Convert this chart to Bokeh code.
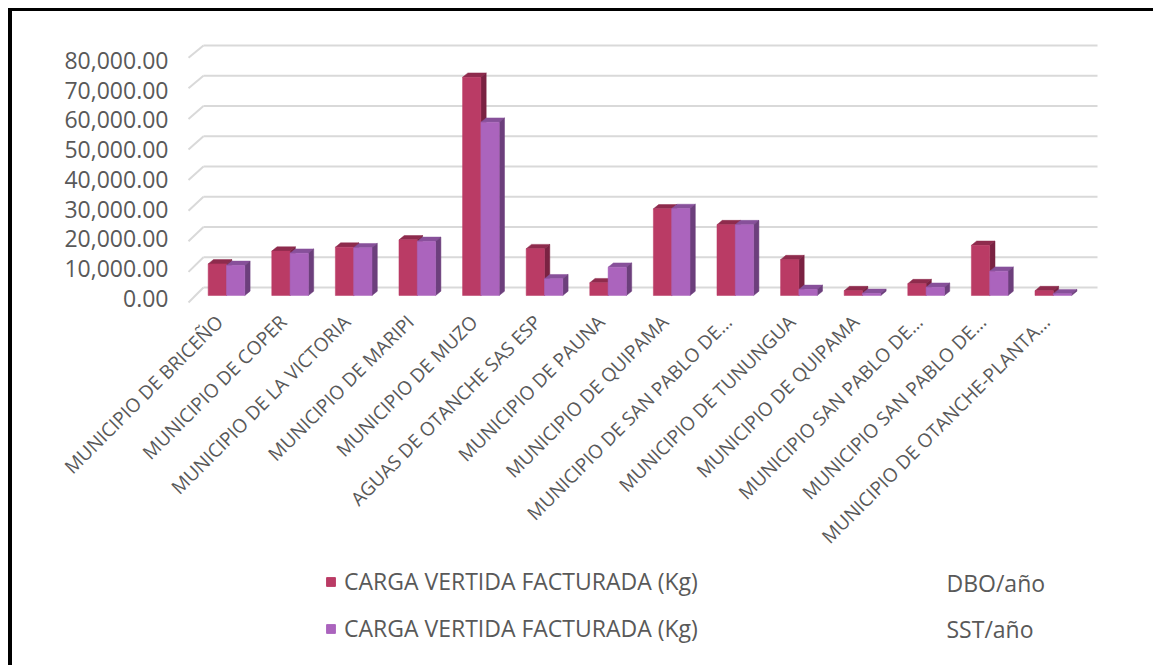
import math
from bokeh.plotting import figure
from bokeh.layouts import column
from bokeh.models import (FixedTicker, NumeralTickFormatter, Range1d, Legend,
                          LegendItem, Label)
from bokeh.embed import file_html
from bokeh.resources import INLINE

# ---------------- data ----------------
categories = [
    "MUNICIPIO DE BRICEÑO",
    "MUNICIPIO DE COPER",
    "MUNICIPIO DE LA VICTORIA",
    "MUNICIPIO DE MARIPI",
    "MUNICIPIO DE MUZO",
    "AGUAS DE OTANCHE SAS ESP",
    "MUNICIPIO DE PAUNA",
    "MUNICIPIO DE QUIPAMA",
    "MUNICIPIO DE SAN PABLO DE...",
    "MUNICIPIO DE TUNUNGUA",
    "MUNICIPIO DE QUIPAMA",
    "MUNICIPIO SAN PABLO DE...",
    "MUNICIPIO SAN PABLO DE...",
    "MUNICIPIO DE OTANCHE-PLANTA...",
]
dbo = [10400, 14600, 15900, 18300, 71800, 15400, 4200, 28500, 23300, 11800, 1600, 3900, 16500, 1600]
sst = [9900, 13900, 15700, 17800, 57000, 5500, 9300, 28600, 23300, 2000, 700, 2700, 8000, 600]
y_ticks = [0, 10000, 20000, 30000, 40000, 50000, 60000, 70000, 80000]
series_label = "CARGA VERTIDA FACTURADA (Kg)"
series_units = ["DBO/año", "SST/año"]

# ---------------- style / projection ----------------
FONT = "Open Sans"
TXT = "#595959"
GRID = "#D9D9D9"
DBO_COL = ("#BA3B65", "#8E2B4D", "#7A2242")   # front, top, side
SST_COL = ("#AB64BD", "#87509A", "#6C3F7C")

W = 0.288          # width of one bar (category units)
DX = 0.0833        # depth offset x (category units)
DY = 1445          # depth offset y (axis units)
BAR_BASE, BAR_K = 1008, 1.0218       # bar plane
BACK_BASE, BACK_K = 3697, 1.0168     # back wall
FRONT_BASE, FRONT_K = -1345, 1.0286  # front floor edge
BACK_X0, BACK_X1, FRONT_X0 = -0.362, 13.695, -0.597
LABEL_SHIFT = -0.11  # category labels sit slightly left of the bar pair

CW = 1141
H1, H2 = 555, 99
FRAME_W = 920

p = figure(width=CW, height=H1, output_backend="svg", toolbar_location=None,
           x_range=Range1d(-0.723, 13.742), y_range=Range1d(-2017, 90084),
           min_border_left=168, min_border_right=53, min_border_top=19,
           min_border_bottom=H1 - 293, background_fill_color="white",
           border_fill_color="white", outline_line_color=None)
p.xgrid.visible = False
p.ygrid.visible = False

# gridlines on back wall + side wall diagonal
gy_back = [BACK_BASE + BACK_K * t for t in y_ticks]
gy_front = [FRONT_BASE + FRONT_K * t for t in y_ticks]
n = len(y_ticks)
p.segment(x0=[BACK_X0] * n, y0=gy_back, x1=[BACK_X1] * n, y1=gy_back,
          line_color=GRID, line_width=2)
p.segment(x0=[FRONT_X0] * n, y0=gy_front, x1=[BACK_X0] * n, y1=gy_back,
          line_color=GRID, line_width=2)

def faces(vals, offset):
    fr = dict(left=[], right=[], bottom=[], top=[])
    top_xs, top_ys, side_xs, side_ys = [], [], [], []
    for i, v in enumerate(vals):
        l = i + offset
        r = l + W
        b = BAR_BASE
        t = BAR_BASE + BAR_K * v
        fr["left"].append(l); fr["right"].append(r); fr["bottom"].append(b); fr["top"].append(t)
        top_xs.append([l, r, r + DX, l + DX]); top_ys.append([t, t, t + DY, t + DY])
        side_xs.append([r, r, r + DX, r + DX]); side_ys.append([b, t, t + DY, b + DY])
    return fr, top_xs, top_ys, side_xs, side_ys

fronts = []
for vals, off, cols in ((dbo, -W, DBO_COL), (sst, 0.0, SST_COL)):
    fr, txs, tys, sxs, sys_ = faces(vals, off)
    p.patches(txs, tys, fill_color=cols[1], line_color=cols[1], line_width=0.5)
    p.patches(sxs, sys_, fill_color=cols[2], line_color=cols[2], line_width=0.5)
    p.quad(fill_color=cols[0], line_color=cols[0], line_width=0.5, **fr)
    fronts.append((fr, cols[0]))

# axes
p.yaxis.ticker = FixedTicker(ticks=y_ticks)
p.yaxis.formatter = NumeralTickFormatter(format="0,0.00")
p.yaxis.major_label_text_font = FONT
p.yaxis.major_label_text_font_size = "23px"
p.yaxis.major_label_text_color = TXT
p.yaxis.axis_line_color = None
p.yaxis.major_tick_line_color = None
p.yaxis.minor_tick_line_color = None
p.yaxis.major_label_standoff = 6

x_ticks = [i + LABEL_SHIFT for i in range(len(categories))]
p.xaxis.ticker = FixedTicker(ticks=x_ticks)
p.xaxis.major_label_overrides = {t: c for t, c in zip(x_ticks, categories)}
p.xaxis.major_label_orientation = math.pi / 4
p.xaxis.major_label_text_font = FONT
p.xaxis.major_label_text_font_size = "19px"
p.xaxis.major_label_text_color = TXT
p.xaxis.axis_line_color = None
p.xaxis.major_tick_line_color = None
p.xaxis.minor_tick_line_color = None
p.xaxis.major_label_standoff = 8

# ---------------- legend strip (pixel-unit ranges, frame aligned with chart) ----------------
p2 = figure(width=CW, height=H2, output_backend="svg", toolbar_location=None,
            x_range=Range1d(0, FRAME_W), y_range=Range1d(0, H2),
            min_border=0, background_fill_color="white",
            border_fill_color="white", outline_line_color=None)
p2.axis.visible = False
p2.grid.visible = False
items = []
for (fr, col), unit in zip(fronts, series_units):
    # series swatches share the chart's data; they lie outside this strip's view
    r = p2.quad(fill_color=col, line_color=col, **fr)
    items.append(LegendItem(label=series_label, renderers=[r]))
legend = Legend(items=items, location=(145, 21), orientation="vertical",
                glyph_width=11, glyph_height=11, label_height=31, spacing=15,
                padding=0, margin=0, label_standoff=8,
                label_text_font=FONT, label_text_font_size="23px",
                label_text_color=TXT, border_line_color=None,
                background_fill_alpha=0)
p2.add_layout(legend)
for k, unit in enumerate(series_units):
    p2.add_layout(Label(x=766, y=83 - 46 * k, text=unit, text_font=FONT,
                        text_font_size="23px", text_color=TXT,
                        text_baseline="middle", text_align="left"))

layout = column(p, p2, spacing=0)
layout.styles = {"border-left": "4px solid black", "border-top": "3px solid black",
                 "margin-left": "8px", "margin-top": "8px"}

open("out.html", "w").write(file_html(layout, INLINE))
